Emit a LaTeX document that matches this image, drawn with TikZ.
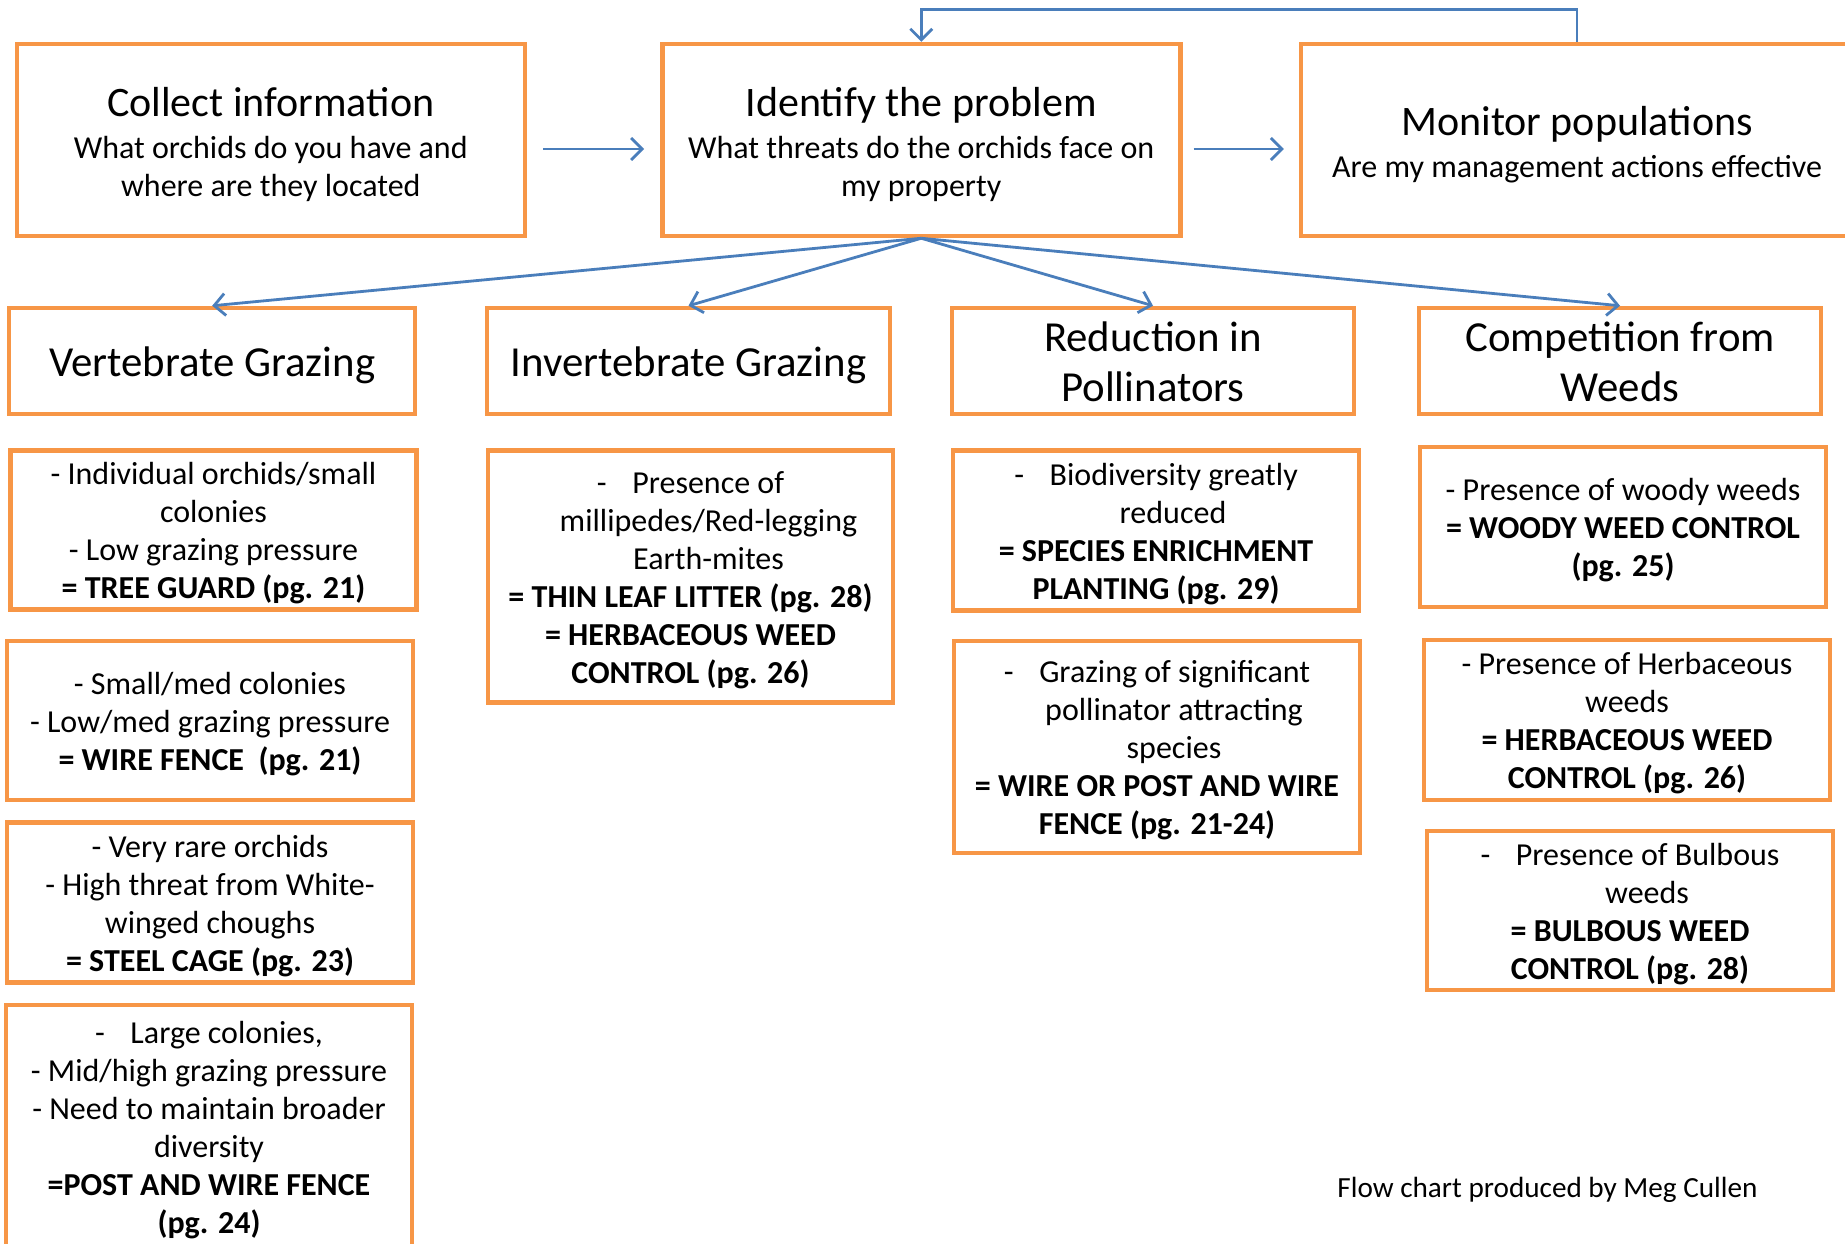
\documentclass[tikz,border=0pt]{standalone}
\usepackage{fontspec}
\setmainfont{Carlito}
\usetikzlibrary{arrows.meta}

\definecolor{boxorange}{HTML}{F79646}
\definecolor{flowblue}{HTML}{4A7EBB}
\newcommand{\titlesize}{\fontsize{21}{23}\selectfont}
\newcommand{\bodysize}{\fontsize{16}{19}\selectfont}
\newcommand{\threatsize}{\fontsize{21.4}{25.3}\selectfont}
\newcommand{\tabdash}{-\hspace{0.8em}}
% room above the first line and below the last, as the word processor leaves it
\newcommand{\topstrut}{\rule{0pt}{0.97em}}
\newcommand{\botstrut}{\rule[-0.25em]{0pt}{0pt}}

\begin{document}
\begin{tikzpicture}[x=0.5pt,y=-0.5pt,
  box/.style={draw=boxorange,line width=2.25pt,fill=white,align=center,inner sep=0pt,font=\bodysize,minimum width=203pt,minimum height=80pt},
  threat/.style={box,font=\threatsize,minimum height=53pt},
  flow/.style={flowblue,line width=1.4pt,-{Straight Barb[length=5.5pt,width=11pt]}}]
% Page
\useasboundingbox[fill=white] (0,0) rectangle (1845,1243);
% Top row
\node[box,minimum width=254pt,minimum height=96pt] (collect) at (270.75,140) {{\titlesize\topstrut Collect information}\\[2pt] What orchids do you have and\\ where are they located\botstrut};
\node[box,minimum width=259pt,minimum height=96pt] (identify) at (921.25,140) {{\titlesize\topstrut Identify the problem}\\[2pt] What threats do the orchids face on\\ my property\botstrut};
\node[box,minimum width=276pt,minimum height=96pt] (monitor) at (1577,140) {{\titlesize\topstrut Monitor populations}\\[2pt] Are my management actions effective\botstrut};
% Steps along the top
\draw[flow,shorten <=8pt,shorten >=8pt] ([yshift=-4.5pt]collect.east) -- ([yshift=-4.5pt]identify.west);
\draw[flow,shorten <=5.5pt,shorten >=7.5pt] ([yshift=-4.5pt]identify.east) -- ([yshift=-4.5pt]monitor.west);
% Back from monitoring
\coordinate (loop) at (0,9.4);
\draw[flow] (monitor.north) -- (monitor.north |- loop) -| (identify.north);
% Threats
\node[threat,minimum width=203pt] (vert) at (212.2,361) {\topstrut Vertebrate Grazing\botstrut};
\node[threat,minimum width=201.5pt] (invert) at (688.5,361) {\topstrut Invertebrate Grazing\botstrut};
\node[threat,minimum width=201pt] (pollin) at (1153,361) {\topstrut Reduction in\\ Pollinators\botstrut};
\node[threat,minimum width=201pt] (weeds) at (1620,361) {\topstrut Competition from\\ Weeds\botstrut};
\foreach \t in {vert,invert,pollin,weeds}
  \draw[flow] (identify.south) -- (\t.north);
% Vertebrate grazing actions
\node[box,minimum height=79.5pt] (guard) at (213.5,530) {\topstrut - Individual orchids/small\\ colonies\\ - Low grazing pressure\\ \textbf{= TREE GUARD (pg. 21)}\botstrut};
\node[box,minimum height=79.5pt] (wire) at (210,720.5) {\topstrut - Small/med colonies\\ - Low/med grazing pressure\\ \textbf{= WIRE FENCE\ \ (pg. 21)}\botstrut};
\node[box] (cage) at (210,902.5) {\topstrut - Very rare orchids\\ - High threat from White-\\ winged choughs\\ \textbf{= STEEL CAGE (pg. 23)}\botstrut};
\node[box,minimum height=122pt] (post) at (209,1127) {\topstrut\tabdash Large colonies,\\ - Mid/high grazing pressure\\ - Need to maintain broader\\ diversity\\ \textbf{=POST AND WIRE FENCE}\\ \textbf{(pg. 24)}\botstrut};
% Invertebrate grazing actions
\node[box,minimum width=202.5pt,minimum height=126pt] (litter) at (690.5,576.6) {\topstrut\tabdash Presence of\\ \hspace*{18pt}millipedes/Red-legging\\ \hspace*{18pt}Earth-mites\\ \textbf{= THIN LEAF LITTER (pg. 28)}\\ \textbf{= HERBACEOUS WEED}\\ \textbf{CONTROL (pg. 26)}\botstrut};
% Pollinator actions
\node[box] (enrich) at (1156,530.7) {\topstrut\tabdash Biodiversity greatly\\ \hspace*{17pt}reduced\\ \textbf{= SPECIES ENRICHMENT}\\ \textbf{PLANTING (pg. 29)}\botstrut};
\node[box,minimum height=106pt] (fence) at (1157,747) {\topstrut\tabdash Grazing of significant\\ \hspace*{17pt}pollinator attracting\\ \hspace*{17pt}species\\ \textbf{= WIRE OR POST AND WIRE}\\ \textbf{FENCE (pg. 21-24)}\botstrut};
% Weed actions
\node[box] (woody) at (1623,527) {\topstrut - Presence of woody weeds\\ \textbf{= WOODY WEED CONTROL}\\ \textbf{(pg. 25)}\botstrut};
\node[box] (herb) at (1627,720) {\topstrut - Presence of Herbaceous\\ weeds\\ \textbf{= HERBACEOUS WEED}\\ \textbf{CONTROL (pg. 26)}\botstrut};
\node[box,minimum height=79.5pt] (bulb) at (1630,910.5) {\topstrut\tabdash Presence of Bulbous\\ \hspace*{17pt}weeds\\ \textbf{= BULBOUS WEED}\\ \textbf{CONTROL (pg. 28)}\botstrut};
% Credit
\node[font=\fontsize{14.6}{17}\selectfont] (credit) at (1547.5,1190) {Flow chart produced by Meg Cullen};
\end{tikzpicture}
\end{document}
